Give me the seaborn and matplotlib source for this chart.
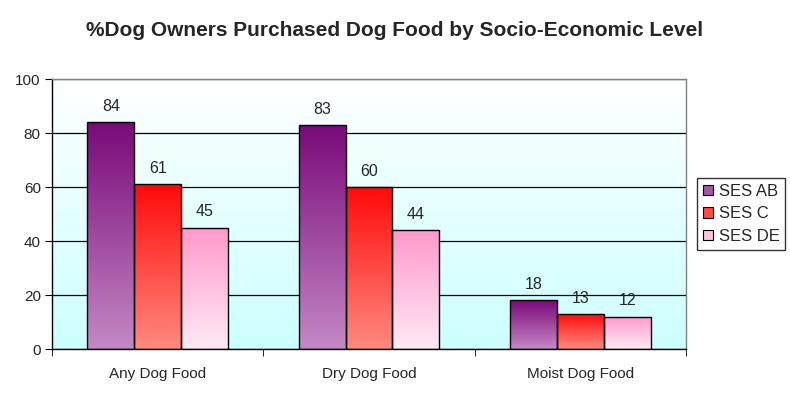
import numpy as np
import pandas as pd
import matplotlib
matplotlib.use("Agg")
import matplotlib.pyplot as plt
import seaborn as sns
from matplotlib.colors import LinearSegmentedColormap
from matplotlib.patches import Patch

# data
categories = ["Any Dog Food", "Dry Dog Food", "Moist Dog Food"]
groups = ["SES AB", "SES C", "SES DE"]
ses_ab = [84, 83, 18]
ses_c = [61, 60, 13]
ses_de = [45, 44, 12]

df = pd.DataFrame({
    "food": categories * 3,
    "ses": [g for g in groups for _ in categories],
    "pct": ses_ab + ses_c + ses_de,
})

# top / bottom colours of the gradient fills
grad = {
    "SES AB": ("#7a0a7a", "#c488c4"),
    "SES C": ("#ff0a0a", "#ff8a80"),
    "SES DE": ("#ff99cc", "#ffeaf4"),
}
mid = {"SES AB": "#a458a4", "SES C": "#ff4a44", "SES DE": "#ffc4e0"}

sns.set_style("white")
plt.rcParams["font.family"] = ["Liberation Sans", "DejaVu Sans"]

fig = plt.figure(figsize=(7.9, 3.98), dpi=100)
ax = fig.add_axes([0.0658, 0.1231, 0.8026, 0.6784])

sns.barplot(data=df, x="food", y="pct", hue="ses", hue_order=groups,
            palette=mid, order=categories, width=0.664, ax=ax,
            edgecolor="black", linewidth=1.0, legend=False, zorder=3)

ax.set_ylim(0, 100)
ax.set_xlim(-0.5, 2.5)

# background gradient white -> light cyan
bg = LinearSegmentedColormap.from_list("bg", ["#ccffff", "#ffffff"])
ax.imshow(np.linspace(0, 1, 256).reshape(-1, 1), cmap=bg, aspect="auto",
          extent=(-0.5, 2.5, 0, 100), origin="lower", zorder=0)

# gradient fill for each bar
n = len(categories)
for i, p in enumerate(ax.patches):
    g = groups[i // n]
    cm = LinearSegmentedColormap.from_list(g, [grad[g][1], grad[g][0]])
    x0, y0 = p.get_x(), p.get_y()
    w, h = p.get_width(), p.get_height()
    im = ax.imshow(np.linspace(0, 1, 128).reshape(-1, 1), cmap=cm,
                   aspect="auto", extent=(x0, x0 + w, y0, y0 + h),
                   origin="lower", zorder=2)
    im.set_clip_path(p)
    p.set_facecolor("none")

ax.set_xlim(-0.5, 2.5)
ax.set_ylim(0, 100)

for c in ax.containers:
    ax.bar_label(c, fmt="%d", padding=6, fontsize=11.5)

ax.yaxis.grid(True, color="black", linewidth=0.9, zorder=1)
ax.set_axisbelow(True)
ax.set_yticks([0, 20, 40, 60, 80, 100])
ax.set_xticks([0, 1, 2])
ax.set_xticks([-0.5, 0.5, 1.5, 2.5], minor=True)
ax.tick_params(axis="x", which="major", length=0, labelsize=11, pad=13)
ax.tick_params(axis="x", which="minor", length=5, direction="out",
               color="black", bottom=True)
ax.tick_params(axis="y", length=5, direction="out", color="black",
               labelsize=11, left=True, pad=3)
ax.set_xlabel("")
ax.set_ylabel("")

for s in ["left", "bottom"]:
    ax.spines[s].set_color("black")
    ax.spines[s].set_linewidth(1.0)
for s in ["top", "right"]:
    ax.spines[s].set_color("#808080")
    ax.spines[s].set_linewidth(1.0)

handles = [Patch(facecolor=mid[g], edgecolor="black", linewidth=0.8) for g in groups]
leg = fig.legend(handles, groups, loc="center left",
                 bbox_to_anchor=(697 / 790, 1 - 214 / 398), fontsize=12,
                 frameon=True, fancybox=False, edgecolor="black",
                 handlelength=0.6, handleheight=0.6, handletextpad=0.35,
                 borderpad=0.35, labelspacing=0.45, borderaxespad=0)
leg.get_frame().set_linewidth(1.0)

fig.suptitle("%Dog Owners Purchased Dog Food by Socio-Economic Level",
             x=0.5, y=1 - 30 / 398, va="center", fontsize=15, fontweight="bold")

fig.savefig("out.png", dpi=100)
